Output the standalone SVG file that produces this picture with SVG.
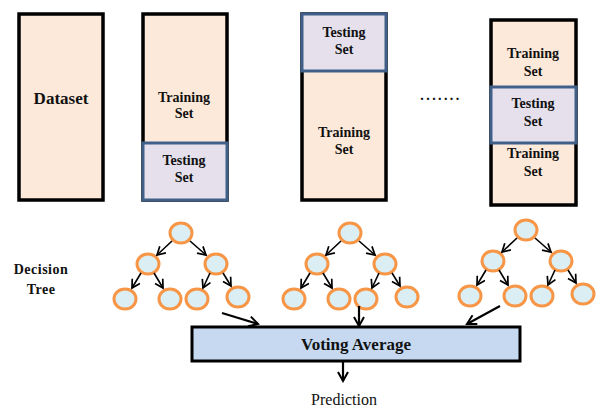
<svg xmlns="http://www.w3.org/2000/svg" width="605" height="408" viewBox="0 0 605 408">
<style>
.train{fill:#fde9d9;stroke:#000;stroke-width:3.5}
.test{fill:#e5e0ec;stroke:#416089;stroke-width:3}
.lbl{font-family:"Liberation Serif","Times New Roman",serif;font-weight:bold;font-size:14px;fill:#111;text-anchor:middle}
.nd{fill:#daeef3;stroke:#f79646;stroke-width:3}
.edge{stroke:#000;stroke-width:1.6;fill:none;marker-end:url(#ah)}
.big{stroke:#000;stroke-width:2.2;fill:none;marker-end:url(#ah2)}
</style>
<defs>
<marker id="ah" markerWidth="11" markerHeight="11" refX="9" refY="5.5" orient="auto" markerUnits="userSpaceOnUse">
<path d="M1,1 L9,5.5 L1,10" fill="none" stroke="#000" stroke-width="1.7"/>
</marker>
<marker id="ah2" markerWidth="12" markerHeight="12" refX="10" refY="6" orient="auto" markerUnits="userSpaceOnUse">
<path d="M1,1 L10,6 L1,11" fill="none" stroke="#000" stroke-width="2"/>
</marker>
<g id="treeNodes">
<ellipse class="nd" cx="181" cy="233" rx="11" ry="10"/>
<ellipse class="nd" cx="148" cy="264" rx="11" ry="10"/>
<ellipse class="nd" cx="216" cy="264" rx="11" ry="10"/>
<ellipse class="nd" cx="125" cy="299" rx="11" ry="10"/>
<ellipse class="nd" cx="170" cy="299" rx="11" ry="10"/>
<ellipse class="nd" cx="197" cy="299" rx="11" ry="10"/>
<ellipse class="nd" cx="238" cy="297" rx="11" ry="10"/>
</g>
<g id="treeEdges">
<line class="edge" x1="172" y1="241" x2="157" y2="255"/>
<line class="edge" x1="190" y1="241" x2="206" y2="255"/>
<line class="edge" x1="141" y1="273" x2="132" y2="288"/>
<line class="edge" x1="154" y1="273" x2="163" y2="288"/>
<line class="edge" x1="210" y1="273" x2="203" y2="288"/>
<line class="edge" x1="223" y1="273" x2="231" y2="286"/>
</g>
</defs>

<g id="dataset">
<rect class="train" x="19" y="14" width="84" height="186"/>
<text class="lbl" x="61" y="104" style="font-size:17px">Dataset</text>
</g>

<g id="fold1">
<rect class="train" x="143" y="14" width="84" height="186"/>
<rect class="test" x="143" y="143" width="84" height="57"/>
<text class="lbl" x="184" y="102">Training</text>
<text class="lbl" x="184" y="118">Set</text>
<text class="lbl" x="184" y="165">Testing</text>
<text class="lbl" x="184" y="182">Set</text>
</g>

<g id="fold2">
<rect class="train" x="302" y="14" width="84" height="186"/>
<rect class="test" x="302" y="14" width="84" height="57"/>
<text class="lbl" x="344" y="37">Testing</text>
<text class="lbl" x="344" y="54">Set</text>
<text class="lbl" x="344" y="137">Training</text>
<text class="lbl" x="344" y="154">Set</text>
</g>

<g id="dots">
<text class="lbl" x="441" y="100" style="letter-spacing:2.4px">.......</text>
</g>

<g id="foldK">
<rect class="train" x="491" y="20" width="85" height="185"/>
<rect class="test" x="491" y="87" width="85" height="56"/>
<text class="lbl" x="533" y="58">Training</text>
<text class="lbl" x="533" y="76">Set</text>
<text class="lbl" x="533" y="108">Testing</text>
<text class="lbl" x="533" y="126">Set</text>
<text class="lbl" x="533" y="158">Training</text>
<text class="lbl" x="533" y="176">Set</text>
</g>

<g id="decisionTreeLabel">
<text class="lbl" x="41" y="274" style="font-size:14px;letter-spacing:0.5px">Decision</text>
<text class="lbl" x="41" y="294" style="font-size:14px;letter-spacing:0.5px">Tree</text>
</g>

<g id="tree1">
<use href="#treeNodes"/>
</g>
<g id="tree2" transform="translate(169,0)">
<use href="#treeNodes"/>
</g>
<g id="tree3" transform="translate(345,-3)">
<use href="#treeNodes"/>
</g>

<g id="voting">
<rect x="192" y="327" width="328" height="34" fill="#c6d9f1" stroke="#000" stroke-width="3"/>
<text class="lbl" x="356" y="350" style="font-size:17px">Voting Average</text>
</g>

<g id="prediction">
<text x="344" y="405" font-family="Liberation Serif, Times New Roman, serif" font-size="16" fill="#111" text-anchor="middle">Prediction</text>
</g>

<g id="connectors">
<use href="#treeEdges"/>
<use href="#treeEdges" transform="translate(169,0)"/>
<use href="#treeEdges" transform="translate(345,-3)"/>
<line class="big" x1="222" y1="313" x2="258" y2="324"/>
<line class="big" x1="359" y1="306" x2="359" y2="326"/>
<line class="big" x1="500" y1="306" x2="467" y2="324"/>
<line class="big" x1="343" y1="362" x2="343" y2="381"/>
</g>
</svg>
